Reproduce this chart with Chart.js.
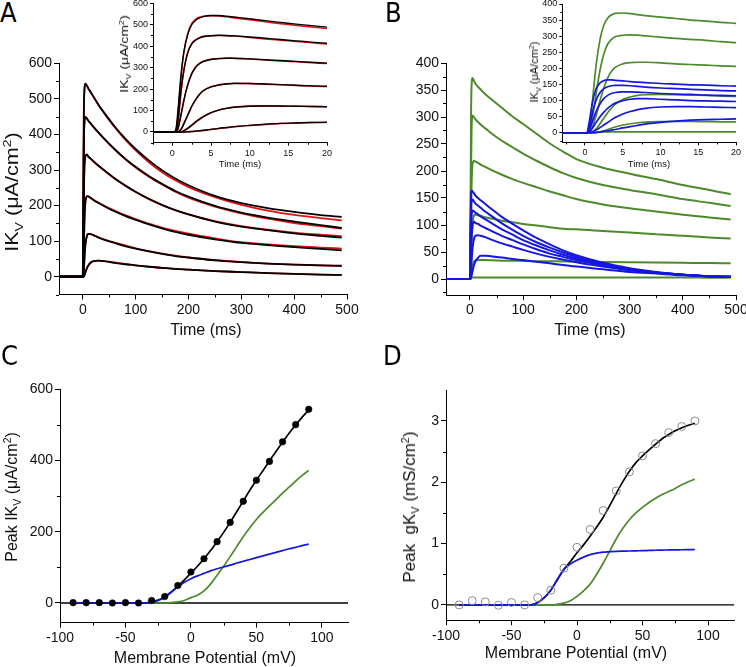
<!DOCTYPE html>
<html><head><meta charset="utf-8">
<script src="https://cdn.jsdelivr.net/npm/chart.js@4.4.1/dist/chart.umd.min.js"></script>
<style>
html,body{margin:0;padding:0;background:#fff;width:746px;height:667px;overflow:hidden;position:relative;font-family:'Liberation Sans',Arial,sans-serif;}
.lbl{position:absolute;font-family:'Liberation Sans Narrow','DejaVu Sans Condensed','Liberation Sans',sans-serif;font-stretch:condensed;font-size:27px;color:#000;line-height:1;}
.t{position:absolute;white-space:nowrap;color:#111;line-height:1;font-family:'Liberation Sans',Arial,sans-serif;}
sub,sup{font-size:65%;line-height:0;}
</style></head><body>
<script>
// ---------- DATA ----------
// Panel A / B main: time (ms)
const tMain = [-45,0,1,2,3,5,8,10,15,20,30,40,60,80,100,125,150,175,200,250,300,350,400,450,490];
const aBlack1 = [0,0,220,455,520,543,537,531,519,507,483,462,423,389,359,327,299,276,257,227,207,193,182,173,168];
const aRed1   = [0,0,200,460,525,542,536,530,518,506,482,461,421,386,355,322,294,271,252,224,202,186,174,165,158];
const aBlack2 = [0,0,150,370,428,449,445,440,431,422,405,389,359,332,309,283,261,241,225,199,180,166,155,145,137];
const aRed2   = [0,0,140,372,430,448,444,439,430,421,404,388,358,331,307,281,259,239,222,197,178,163,151,142,135];
const aBlack3 = [0,0,60,220,300,338,344,339,332,325,312,300,277,257,239,219,202,187,175,155,141,131,122,115,110];
const aRed3   = [0,0,55,225,305,340,343,338,331,324,311,299,276,256,238,218,201,187,175,156,142,132,124,118,114];
const aBlack4 = [0,0,8,80,150,210,226,226,221,216,207,199,184,171,160,147,136,126,118,105,95,89,83,78,74];
const aRed4   = [0,0,6,78,148,212,227,226,222,217,208,200,186,173,162,149,138,129,121,108,97,91,86,82,79];
const aBlack5 = [0,0,0,18,47,90,115,120,120,117,110,104,95,86,79,71,64,58,54,46,41,37,34,32,31];
const aRed5   = [0,0,0,16,45,92,116,121,120,117,111,105,96,88,80,72,65,59,54,47,41,37,34,32,30];
const aBlack6 = [0,0,0,1,4,12,25,31,40,44,45,44,39,35,32,28,25,22,20,16,13,10,8,6,5];
const aRed6   = [0,0,0,1,4,12,24,30,39,43,45,44,40,36,32,28,25,22,20,16,13,10,8,6,5];

const bGreen1 = [0,0,100,290,356,372,366,362,356,351,341,333,317,301,287,269,251,236,222,206,195,185,174,165,157];
const bGreen2 = [0,0,50,195,275,303,299,296,291,286,278,270,256,244,232,219,207,196,187,174,165,157,148,141,135];
const bGreen3 = [0,0,18,100,170,214,219,218,215,212,207,202,193,185,178,170,162,155,148,138,131,125,119,114,110];
const bGreen4 = [0,0,3,28,62,103,118,119,118,117,114,112,108,105,102,99,96,93,92,89,86,83,80,77,75];
const bGreen5 = [0,0,0,3,10,24,33,34.5,35,35,35,34.5,34,34,33.5,33,33,32.5,32,31.5,31,30.5,30,29.5,29];
const bGreen6 = [0,0,0,2,3,3,3,3,3,3,3,3,3,3,3,3,3,3,3,3,3,3,3,2.5,2.5];
const bBlue1 = [0,0,95,155,164,162,158,155,150,146,138,130,115,102,90,76,64,53,44,30,20,13,8,5,4];
const bBlue2 = [0,0,62,125,143,147,143,140,136,132,124,117,103,91,80,68,58,49,41,28,19,12,8,5,4];
const bBlue3 = [0,0,35,90,116,127,125,123,120,116,110,104,92,82,72,62,53,45,38,26,18,12,8,5,4];
const bBlue4 = [0,0,15,50,76,100,106,104,102,99,94,89,80,72,64,55,47,41,35,25,17,11,8,5,4];
const bBlue5 = [0,0,3,16,32,58,76,80,81,80,77,73,66,60,54,47,41,36,31,23,16,11,8,5,4];
const bBlue6 = [0,0,0,2,6,15,27,32,39,43,43,42,40,37,35,32,29,26,23,18,13,10,7,5,4];

// Insets: time (ms)
const tIn = [-3,0,0.25,0.5,0.75,1,1.25,1.5,2,2.5,3,3.5,4,5,6,7,8,10,12,14,16,18,20];
const iBlack1 = [0,0,0,20,110,220,310,375,455,500,520,531,538,543,543,540,536,528,519,511,503,496,489];
const iRed1   = [0,0,0,10,90,200,300,375,460,505,525,535,540,542,541,537,532,523,514,505,497,489,482];
const iBlack2 = [0,0,0,5,60,150,230,290,370,410,428,438,444,449,451,450,448,443,437,431,425,419,414];
const iRed2   = [0,0,0,2,45,140,225,290,372,412,430,440,446,449,450,449,447,441,434,428,422,416,410];
const iBlack3 = [0,0,0,0,20,60,105,150,220,270,300,318,328,338,342,344,344,341,337,333,329,325,321];
const iRed3   = [0,0,0,0,15,55,100,148,222,272,303,320,330,339,343,344,343,340,336,331,327,323,319];
const iBlack4 = [0,0,0,0,0,8,20,40,80,120,150,175,192,210,219,224,226,226,224,221,218,215,213];
const iRed4   = [0,0,0,0,0,6,18,38,78,118,150,175,193,211,220,225,227,226,223,220,217,214,212];
const iBlack5 = [0,0,0,0,0,0,2,6,18,32,47,60,72,90,102,110,115,120,121,121,120,119,118];
const iRed5   = [0,0,0,0,0,0,1,5,16,30,45,58,70,89,102,110,116,121,122,121,120,119,117];
const iBlack6 = [0,0,0,0,0,0,0,0,1,2,4,6,8,12,17,21,25,31,36,40,42,44,45];
const iRed6   = [0,0,0,0,0,0,0,0,1,2,3,5,7,11,16,20,24,30,35,39,42,44,45];

const iGreen1 = [0,0,0,10,45,100,160,215,290,335,356,366,371,372,370,367,364,359,355,350,347,343,340];
const iGreen2 = [0,0,0,3,20,50,85,125,195,245,275,290,298,303,304,303,301,297,293,290,287,283,280];
const iGreen3 = [0,0,0,0,5,18,35,55,100,140,170,190,203,214,218,219,219,217,214,212,210,208,206];
const iGreen4 = [0,0,0,0,0,3,7,12,28,45,62,76,88,103,111,116,118,119,118,117,116,114,113];
const iGreen5 = [0,0,0,0,0,0,0,1,3,6,10,14,18,24,28,31,33,34.5,35,35,34.5,34,34];
const iGreen6 = [0,0,0,0,0,0,0,1,2,2.5,3,3,3,3,3,3,3,3,3,3,3,3,3];
const iBlue1 = [0,0,0,25,60,95,120,138,155,162,164,164,163,161,159,157,156,153,151,149,148,146,145];
const iBlue2 = [0,0,0,12,35,62,85,103,125,137,143,146,147,147,146,144,142,139,137,135,133,131,130];
const iBlue3 = [0,0,0,5,18,35,52,67,90,106,116,122,125,127,127,126,125,122,120,119,117,116,115];
const iBlue4 = [0,0,0,2,7,15,24,33,50,64,76,85,92,100,104,106,106,104,102,100,99,98,97];
const iBlue5 = [0,0,0,0,1,3,6,9,16,24,32,40,47,58,66,72,76,80,81,81,80,79,78];
const iBlue6 = [0,0,0,0,0,0,0,1,2,4,6,8,10,15,19,23,27,32,36,39,41,42,43];

// Panels C / D: membrane potential (mV)
const vSteps = [-90,-80,-70,-60,-50,-40,-30,-20,-10,0,10,20,30,40,50,60,70,80,90];
const vFine = [-90,-85,-80,-75,-70,-65,-60,-55,-50,-45,-40,-35,-30,-25,-20,-15,-10,-5,0,5,10,15,20,25,30,35,40,45,50,55,60,65,70,75,80,85,90];
const cPeakI = [1,1,1,0,1,0,7,18,49,87,124,172,226,285,344,397,452,500,543];
const cBlackFit = [0,0,0,0,0,0,0,0,0,0,0,0,3,8,17,31,47,65,84,103,124,147,172,198,226,256,286,316,344,371,398,425,451,476,499,521,541];
const cBlue = [0,0,0,0,0,0,0,0,0,0,0,0,2,7,16,30,45,58,68,76,83,90,96,101,106,112,117,122,127,132,137,142,147,152,156,161,165];
const cGreen = [0,0,0,0,0,0,0,0,0,0,0,0,0,0,0,1,3,7,15,22,34,53,78,103,130,158,186,211,234,254,272,290,308,325,342,358,372];
const dPeakG = [0,0.07,0.05,-0.005,0.04,0,0.12,0.24,0.60,0.94,1.23,1.54,1.86,2.17,2.43,2.63,2.81,2.91,3.0];
const dBlackFit = [0,0,0,0,0,0,0,0,0,0,0,0,0.04,0.12,0.24,0.41,0.58,0.71,0.85,0.98,1.12,1.27,1.43,1.62,1.82,2.01,2.18,2.32,2.43,2.53,2.62,2.71,2.78,2.84,2.89,2.93,2.96];
const dBlue = [0,0,0,0,0,0,0,0,0,0,0,0,0.04,0.12,0.24,0.42,0.58,0.67,0.73,0.78,0.82,0.845,0.86,0.868,0.875,0.878,0.88,0.883,0.886,0.889,0.892,0.895,0.897,0.899,0.9,0.902,0.904];
const dGreen = [0,0,0,0,0,0,0,0,0,0,0,0,0,0,0,0.01,0.03,0.07,0.14,0.23,0.34,0.5,0.68,0.88,1.08,1.25,1.39,1.5,1.59,1.67,1.74,1.8,1.85,1.9,1.96,2.01,2.05];
const zeroX = [-100,120];
const zeroY = [0,0];

// Tick values
const ticksTimeMain = [0,100,200,300,400,500];
const minorTimeMain = [50,150,250,350,450];
const ticksIA = [0,100,200,300,400,500,600];
const minorIA = [-50,50,150,250,350,450,550];
const ticksIB = [0,50,100,150,200,250,300,350,400];
const minorIB = [-25,25,75,125,175,225,275,325,375];
const ticksTimeIn = [0,5,10,15,20];
const minorTimeIn = [-2.5,2.5,7.5,12.5,17.5];
const ticksV = [-100,-50,0,50,100];
const minorV = [-75,-25,25,75];
const ticksPeakI = [0,200,400,600];
const minorPeakI = [100,300,500];
const ticksPeakG = [0,1,2,3];
const minorPeakG = [0.5,1.5,2.5];

// ---------- RENDERING ----------
const FF = "'Liberation Sans', Arial, Helvetica, sans-serif";
const GREEN = '#4C8A2C', BLUE = '#1616E0', RED = '#E31212', BLACK = '#000';

function xy(xs, ys){ return xs.map((x,i)=>({x:x, y:ys[i]})); }
function line(xs, ys, color, w){
  return {data: xy(xs,ys), borderColor: color, backgroundColor: color, borderWidth: w,
    showLine: true, pointRadius: 0, cubicInterpolationMode: 'monotone', fill: false};
}
function minorPlugin(o){
  return {id:'minorTicks', afterDraw(chart){
    const ctx = chart.ctx; ctx.save(); ctx.strokeStyle = '#000'; ctx.lineWidth = 1; ctx.beginPath();
    const sx = chart.scales.x, sy = chart.scales.y;
    (o.xMin||[]).forEach(v=>{ const p = Math.round(sx.getPixelForValue(v))+0.5; ctx.moveTo(p, sx.top); ctx.lineTo(p, sx.top+o.tm); });
    (o.yMin||[]).forEach(v=>{ const p = Math.round(sy.getPixelForValue(v))+0.5; ctx.moveTo(sy.right, p); ctx.lineTo(sy.right-o.tm, p); });
    ctx.stroke(); ctx.restore();
  }};
}
function mk(box, o){
  const c = document.createElement('canvas');
  c.width = box.w; c.height = box.h;
  c.style.cssText = 'position:absolute;left:'+box.l+'px;top:'+box.t+'px;width:'+box.w+'px;height:'+box.h+'px;';
  document.body.appendChild(c);
  const axis = (min, max, major, fit) => ({
    type:'linear', min:min, max:max,
    afterBuildTicks: s => { s.ticks = major.map(v => ({value:v})); },
    afterFit: fit,
    grid:{display:true, drawOnChartArea:false, drawTicks:true, tickLength:o.tl, color:'#000', lineWidth:1},
    border:{display:true, color:'#000', width:1},
    ticks:{font:{size:o.fs, family:FF}, color:'#111', padding:o.tp, maxRotation:0, autoSkip:false, callback: v => String(v)}
  });
  return new Chart(c, {
    type:'scatter',
    data:{datasets:o.ds},
    options:{responsive:false, animation:false, devicePixelRatio:1, events:[],
      layout:{padding:{left:0, top:o.pt, right:o.pr, bottom:0}},
      plugins:{legend:{display:false}, tooltip:{enabled:false}},
      scales:{x: axis(o.x[0], o.x[1], o.xMaj, s=>{s.height=o.xH;}),
              y: axis(o.y[0], o.y[1], o.yMaj, s=>{s.width=o.yW;})}
    },
    plugins:[minorPlugin(o)]
  });
}

// Panel A main
mk({l:0,t:40,w:365,h:300}, {x:[-45,500], y:[-50,600], xMaj:ticksTimeMain, yMaj:ticksIA, xMin:minorTimeMain, yMin:minorIA,
  yW:59, xH:45.5, pt:23.3, pr:18, fs:14, tl:5, tm:3, tp:2,
  ds:[line(tMain,aBlack1,BLACK,1.8),line(tMain,aBlack2,BLACK,1.8),line(tMain,aBlack3,BLACK,1.8),line(tMain,aBlack4,BLACK,1.8),line(tMain,aBlack5,BLACK,1.8),line(tMain,aBlack6,BLACK,1.8),
      line(tMain,aRed1,RED,1.8),line(tMain,aRed2,RED,1.8),line(tMain,aRed3,RED,1.8),line(tMain,aRed4,RED,1.8),line(tMain,aRed5,RED,1.8),line(tMain,aRed6,RED,1.8)]});
// Panel A inset
mk({l:100,t:-10,w:250,h:185}, {x:[-2.5,20], y:[-50,600], xMaj:ticksTimeIn, yMaj:ticksIA, xMin:minorTimeIn, yMin:minorIA,
  yW:53, xH:32.3, pt:13.3, pr:23, fs:9, tl:3, tm:2, tp:2,
  ds:[line(tIn,iBlack1,BLACK,1.4),line(tIn,iBlack2,BLACK,1.4),line(tIn,iBlack3,BLACK,1.4),line(tIn,iBlack4,BLACK,1.4),line(tIn,iBlack5,BLACK,1.4),line(tIn,iBlack6,BLACK,1.4),
      line(tIn,iRed1,RED,1.5),line(tIn,iRed2,RED,1.5),line(tIn,iRed3,RED,1.5),line(tIn,iRed4,RED,1.5),line(tIn,iRed5,RED,1.5),line(tIn,iRed6,RED,1.5)]});
// Panel B main
mk({l:380,t:40,w:380,h:300}, {x:[-45,500], y:[-30,400], xMaj:ticksTimeMain, yMaj:ticksIB, xMin:minorTimeMain, yMin:minorIB,
  yW:66, xH:44.8, pt:23, pr:24, fs:14, tl:5, tm:3, tp:2,
  ds:[line(tMain,bBlue1,BLUE,2),line(tMain,bBlue2,BLUE,2),line(tMain,bBlue3,BLUE,2),line(tMain,bBlue4,BLUE,2),line(tMain,bBlue5,BLUE,2),line(tMain,bBlue6,BLUE,2),
      line(tMain,bGreen1,GREEN,2),line(tMain,bGreen2,GREEN,2),line(tMain,bGreen3,GREEN,2),line(tMain,bGreen4,GREEN,2),line(tMain,bGreen5,GREEN,2),line(tMain,bGreen6,GREEN,2)]});
// Panel B inset
mk({l:510,t:-10,w:250,h:185}, {x:[-3,20], y:[-30,400], xMaj:ticksTimeIn, yMaj:ticksIB, xMin:minorTimeIn, yMin:minorIB,
  yW:52.3, xH:32.6, pt:14, pr:24, fs:9, tl:3, tm:2, tp:2,
  ds:[line(tIn,iBlue1,BLUE,1.7),line(tIn,iBlue2,BLUE,1.7),line(tIn,iBlue3,BLUE,1.7),line(tIn,iBlue4,BLUE,1.7),line(tIn,iBlue5,BLUE,1.7),line(tIn,iBlue6,BLUE,1.7),
      line(tIn,iGreen1,GREEN,1.7),line(tIn,iGreen2,GREEN,1.7),line(tIn,iGreen3,GREEN,1.7),line(tIn,iGreen4,GREEN,1.7),line(tIn,iGreen5,GREEN,1.7),line(tIn,iGreen6,GREEN,1.7)]});
// Panel C
mk({l:0,t:360,w:365,h:307}, {x:[-100,120], y:[-55,600], xMaj:ticksV, yMaj:ticksPeakI, xMin:minorV, yMin:minorPeakI,
  yW:60, xH:44.4, pt:29, pr:17, fs:14, tl:5, tm:3, tp:2,
  ds:[{data:xy(vSteps,cPeakI), showLine:false, pointRadius:3.3, backgroundColor:'#000', borderColor:'#000', borderWidth:0.5},
      line(vFine,cBlue,BLUE,1.7), line(vFine,cBlackFit,BLACK,1.7), line(vFine,cGreen,GREEN,1.7),
      {data:xy(zeroX,zeroY), showLine:true, pointRadius:0, borderColor:'#000', borderWidth:1.3}]});
// Panel D
mk({l:380,t:360,w:380,h:307}, {x:[-100,120], y:[-0.25,3.5], xMaj:ticksV, yMaj:ticksPeakG, xMin:minorV, yMin:minorPeakG,
  yW:66, xH:46.7, pt:30.3, pr:25.8, fs:14, tl:5, tm:3, tp:2,
  ds:[{data:xy(vSteps,dPeakG), showLine:false, pointRadius:4, backgroundColor:'rgba(255,255,255,0)', borderColor:'#8a8a8a', borderWidth:1},
      line(vFine,dBlue,BLUE,1.7), line(vFine,dBlackFit,BLACK,1.7), line(vFine,dGreen,GREEN,1.7),
      {data:xy(zeroX,zeroY), showLine:true, pointRadius:0, borderColor:'#000', borderWidth:1.3}]});
</script>
<div class="lbl" style="left:0px;top:-1px;">A</div>
<div class="lbl" style="left:385px;top:-1px;">B</div>
<div class="lbl" style="left:1px;top:342px;">C</div>
<div class="lbl" style="left:383px;top:342px;">D</div>

<div class="t" style="left:12px;top:192px;font-size:18px;transform:translate(-50%,-50%) rotate(-90deg) scaleX(1.2);">IK<sub>V</sub> (μA/cm<sup>2</sup>)</div>
<div class="t" style="left:206px;top:330px;font-size:16px;transform:translate(-50%,-50%);">Time (ms)</div>
<div class="t" style="left:590px;top:330px;font-size:16px;transform:translate(-50%,-50%);">Time (ms)</div>
<div class="t" style="left:125px;top:54px;font-size:10px;transform:translate(-50%,-50%) rotate(-90deg) scaleX(1.4);">IK<sub>V</sub> (μA/cm<sup>2</sup>)</div>
<div class="t" style="left:240px;top:164px;font-size:9.5px;transform:translate(-50%,-50%);">Time (ms)</div>
<div class="t" style="left:535px;top:72px;font-size:10px;transform:translate(-50%,-50%) rotate(-90deg) scaleX(1.1);">IK<sub>V</sub> (μA/cm<sup>2</sup>)</div>
<div class="t" style="left:649px;top:164px;font-size:9.5px;transform:translate(-50%,-50%);">Time (ms)</div>
<div class="t" style="left:12px;top:497px;font-size:16px;transform:translate(-50%,-50%) rotate(-90deg);">Peak IK<sub>V</sub> (μA/cm<sup>2</sup>)</div>
<div class="t" style="left:205px;top:658px;font-size:16px;transform:translate(-50%,-50%);">Membrane Potential (mV)</div>
<div class="t" style="left:410px;top:507px;font-size:16px;transform:translate(-50%,-50%) rotate(-90deg) scaleX(1.06);">Peak&nbsp; gK<sub>V</sub> (mS/cm<sup>2</sup>)</div>
<div class="t" style="left:576px;top:653px;font-size:16px;transform:translate(-50%,-50%);">Membrane Potential (mV)</div>
</body></html>
